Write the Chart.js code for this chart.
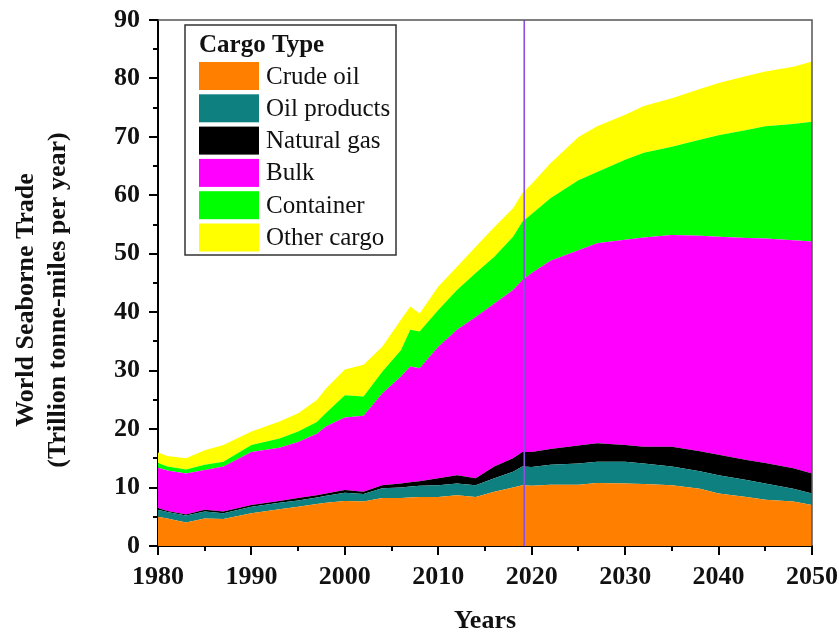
<!DOCTYPE html>
<html>
<head>
<meta charset="utf-8">
<title>World Seaborne Trade by Cargo Type</title>
<script src="https://cdn.jsdelivr.net/npm/chart.js@4/dist/chart.umd.min.js"></script>
<style>
  html, body { margin: 0; padding: 0; background: #fff; }
  #wrap { width: 839px; height: 633px; position: relative; }
</style>
</head>
<body>
<div id="wrap"><canvas id="chart"></canvas></div>
<script>
// Years sampled along the horizontal axis
const years = [1980, 1981, 1983, 1985, 1987, 1990, 1993, 1995, 1997, 1998,
               2000, 2002, 2004, 2006, 2007, 2008, 2010, 2012, 2014, 2016,
               2018, 2019, 2020, 2022, 2025, 2027, 2030, 2032, 2035, 2038,
               2040, 2043, 2045, 2048, 2050];

// Trade per cargo type (trillion tonne-miles per year), stacked in this order
const crudeOil = [5.0, 4.7, 4.0, 4.7, 4.6, 5.6, 6.3, 6.7, 7.2, 7.4,
                  7.7, 7.6, 8.2, 8.2, 8.3, 8.4, 8.4, 8.7, 8.4, 9.3,
                  10.0, 10.4, 10.3, 10.5, 10.5, 10.8, 10.7, 10.6, 10.4, 9.8,
                  9.0, 8.4, 7.9, 7.6, 7.0];
const oilProducts = [1.2, 1.1, 1.2, 1.2, 1.0, 1.1, 1.1, 1.1, 1.1, 1.2,
                     1.4, 1.3, 1.7, 1.8, 1.9, 1.9, 2.0, 2.0, 2.0, 2.3,
                     2.7, 3.2, 3.2, 3.4, 3.6, 3.6, 3.7, 3.5, 3.2, 3.0,
                     3.1, 2.9, 2.8, 2.2, 2.0];
const naturalGas = [0.3, 0.2, 0.2, 0.3, 0.3, 0.3, 0.3, 0.4, 0.4, 0.4,
                    0.5, 0.4, 0.5, 0.7, 0.7, 0.8, 1.2, 1.4, 1.2, 2.0,
                    2.3, 2.5, 2.6, 2.7, 3.1, 3.2, 2.9, 2.9, 3.4, 3.4,
                    3.5, 3.4, 3.5, 3.5, 3.4];
const bulk = [6.9, 6.9, 7.0, 6.8, 7.7, 9.1, 9.1, 9.6, 10.5, 11.5,
              12.4, 13.0, 15.7, 18.3, 19.8, 19.3, 22.5, 24.9, 27.6, 27.9,
              28.8, 29.4, 30.6, 32.2, 33.4, 34.2, 35.1, 35.8, 36.2, 36.9,
              37.3, 38.0, 38.4, 39.0, 39.7];
const container = [0.8, 0.7, 0.7, 0.9, 0.8, 1.2, 1.6, 1.8, 2.0, 2.3,
                   3.8, 3.3, 3.7, 4.5, 6.3, 6.3, 6.3, 6.8, 7.5, 8.0,
                   9.1, 10.0, 10.1, 10.7, 12.0, 12.2, 13.7, 14.5, 15.1, 16.4,
                   17.4, 18.5, 19.2, 19.9, 20.5];
const otherCargo = [1.8, 1.8, 1.9, 2.5, 2.9, 2.3, 2.9, 3.1, 3.8, 4.2,
                    4.4, 5.4, 4.3, 5.2, 4.0, 3.1, 4.0, 4.0, 4.5, 5.1,
                    4.9, 4.9, 5.2, 6.0, 7.4, 7.8, 7.7, 8.0, 8.3, 8.7,
                    8.9, 9.2, 9.4, 9.8, 10.3];

const seriesNames = ['Crude oil', 'Oil products', 'Natural gas', 'Bulk', 'Container', 'Other cargo'];
const seriesValues = [crudeOil, oilProducts, naturalGas, bulk, container, otherCargo];
const seriesColors = ['#FF8000', '#0E8080', '#000000', '#FF00FF', '#00FF00', '#FFFF00'];

// Year separating history from projection
const markerYear = 2019.2;

const SERIF = "'Liberation Serif', 'Times New Roman', serif";

const datasets = seriesNames.map((name, i) => ({
  label: name,
  data: years.map((yr, k) => ({ x: yr, y: seriesValues[i][k] })),
  backgroundColor: seriesColors[i],
  borderColor: seriesColors[i],
  borderWidth: 0,
  pointRadius: 0,
  pointHoverRadius: 0,
  tension: 0,
  fill: i === 0 ? 'origin' : '-1'
}));

// Outward major/minor ticks plus the thin frame on the top and right
const axisDecor = {
  id: 'axisDecor',
  afterDraw(chart) {
    const { ctx, chartArea: a, scales: { x, y } } = chart;
    ctx.save();
    ctx.strokeStyle = '#555';
    ctx.lineWidth = 1.5;
    ctx.beginPath();
    ctx.moveTo(a.left, a.top);
    ctx.lineTo(a.right, a.top);
    ctx.lineTo(a.right, a.bottom);
    ctx.stroke();

    ctx.strokeStyle = '#000';
    ctx.lineWidth = 2;
    ctx.beginPath();
    for (let v = 0; v <= 90; v += 5) {
      const py = Math.round(y.getPixelForValue(v));
      const len = v % 10 === 0 ? 9 : 5;
      ctx.moveTo(a.left, py);
      ctx.lineTo(a.left - len, py);
    }
    for (let v = 1980; v <= 2050; v += 5) {
      const px = Math.round(x.getPixelForValue(v));
      const len = v % 10 === 0 ? 9 : 5;
      ctx.moveTo(px, a.bottom);
      ctx.lineTo(px, a.bottom + len);
    }
    ctx.stroke();
    ctx.restore();
  }
};

// Vertical line at the projection start
const markerLine = {
  id: 'markerLine',
  afterDatasetsDraw(chart) {
    const { ctx, chartArea: a, scales: { x } } = chart;
    const px = x.getPixelForValue(markerYear);
    ctx.save();
    ctx.strokeStyle = '#8B4FE0';
    ctx.lineWidth = 1.6;
    ctx.beginPath();
    ctx.moveTo(px, a.top);
    ctx.lineTo(px, a.bottom);
    ctx.stroke();
    ctx.restore();
  }
};

// Two-line vertical axis title
const yTitle = {
  id: 'yTitle',
  afterDraw(chart) {
    const { ctx } = chart;
    ctx.save();
    ctx.fillStyle = '#111';
    ctx.font = 'bold 26px ' + SERIF;
    ctx.textAlign = 'center';
    ctx.textBaseline = 'middle';
    ctx.translate(26, 300);
    ctx.rotate(-Math.PI / 2);
    ctx.fillText('World Seaborne Trade', 0, 0);
    ctx.fillText('(Trillion tonne-miles per year)', 0, 32);
    ctx.restore();
  }
};

// Boxed legend in the upper left of the plot
const cargoLegend = {
  id: 'cargoLegend',
  afterDraw(chart) {
    const { ctx, chartArea: a } = chart;
    const left = a.left + 27, top = a.top + 5;
    const w = 211, h = 230;
    ctx.save();
    ctx.fillStyle = '#fff';
    ctx.fillRect(left, top, w, h);
    ctx.strokeStyle = '#333';
    ctx.lineWidth = 1.5;
    ctx.strokeRect(left, top, w, h);

    ctx.fillStyle = '#111';
    ctx.textBaseline = 'middle';
    ctx.textAlign = 'left';
    ctx.font = 'bold 25px ' + SERIF;
    ctx.fillText('Cargo Type', left + 14, top + 21);

    ctx.font = '25px ' + SERIF;
    chart.data.datasets.forEach((ds, i) => {
      const cy = top + 51 + i * 32.3;
      ctx.fillStyle = ds.backgroundColor;
      ctx.fillRect(left + 14, cy - 14, 60, 28);
      ctx.fillStyle = '#111';
      ctx.fillText(ds.label, left + 81, cy + 1);
    });
    ctx.restore();
  }
};

new Chart(document.getElementById('chart'), {
  type: 'line',
  data: { datasets },
  options: {
    responsive: true,
    maintainAspectRatio: false,
    animation: false,
    layout: { padding: { top: 20, right: 27, left: 0, bottom: 0 } },
    plugins: {
      legend: { display: false },
      tooltip: { enabled: false },
      title: { display: false }
    },
    elements: { line: { borderWidth: 0 } },
    scales: {
      x: {
        type: 'linear',
        min: 1980,
        max: 2050,
        grid: { display: false },
        border: { display: true, color: '#000', width: 2 },
        ticks: {
          stepSize: 10,
          color: '#111',
          padding: 8,
          maxRotation: 0,
          callback: (v) => String(v),
          font: { family: SERIF, size: 26, weight: 'bold' }
        },
        title: {
          display: true,
          text: 'Years',
          color: '#111',
          padding: { top: 27, bottom: -4 },
          font: { family: SERIF, size: 26, weight: 'bold' }
        },
        afterFit(scale) {
          scale.height = 87;
          scale.paddingLeft = 0;
          scale.paddingRight = 0;
        }
      },
      y: {
        stacked: true,
        min: 0,
        max: 90,
        grid: { display: false },
        border: { display: true, color: '#000', width: 2 },
        ticks: {
          stepSize: 10,
          color: '#111',
          padding: 10,
          callback: (v) => String(v),
          font: { family: SERIF, size: 26, weight: 'bold' }
        },
        afterFit(scale) {
          scale.width = 158;
          scale.paddingTop = 0;
          scale.paddingBottom = 0;
        }
      }
    }
  },
  plugins: [markerLine, axisDecor, yTitle, cargoLegend]
});
</script>
</body>
</html>
